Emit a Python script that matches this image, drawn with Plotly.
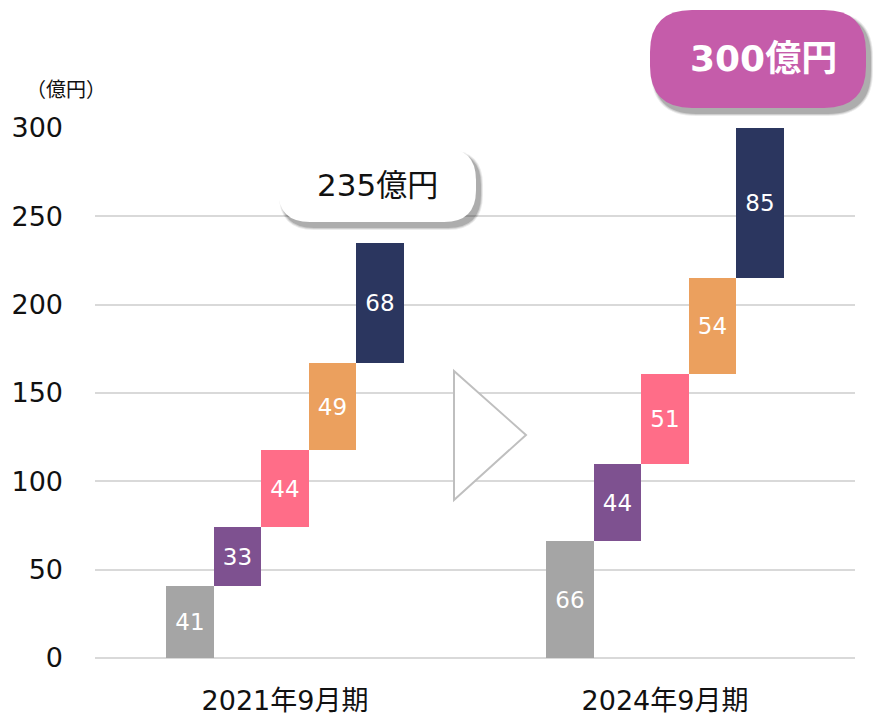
import plotly.graph_objects as go

# ---- data ----
periods = ["2021年9月期", "2024年9月期"]
values_2021 = [41, 33, 44, 49, 68]
values_2024 = [66, 44, 51, 54, 85]
totals = ["235億円", "300億円"]
seg_colors = ["#a5a5a5", "#7e5190", "#ff6d88", "#eba05e", "#2b365f"]
y_ticks = [0, 50, 100, 150, 200, 250, 300]
unit_label = "（億円）"

FONT = "DejaVu Sans, Noto Sans CJK JP"
CJK = "Noto Sans CJK JP"
W, H = 880, 715
L, R, T, B = 95, 855, 128, 658

def px(X, Y):
    return (X - L) / (R - L), (B - Y) / (B - T)

def rrect(x0, y0, x1, y1, r):
    def P(X, Y):
        a, b = px(X, Y)
        return f"{a:.5f},{b:.5f}"
    d = f"M {P(x0 + r, y0)} L {P(x1 - r, y0)} Q {P(x1, y0)} {P(x1, y0 + r)} "
    d += f"L {P(x1, y1 - r)} Q {P(x1, y1)} {P(x1 - r, y1)} "
    d += f"L {P(x0 + r, y1)} Q {P(x0, y1)} {P(x0, y1 - r)} "
    d += f"L {P(x0, y0 + r)} Q {P(x0, y0)} {P(x0 + r, y0)} Z"
    return d

fig = go.Figure()

groups = [(values_2021, 2), (values_2024, 10)]
for vals, start in groups:
    base = 0
    xs, bases = [], []
    for i, v in enumerate(vals):
        xs.append(start + i)
        bases.append(base)
        base += v
    fig.add_trace(go.Bar(
        x=xs, y=vals, base=bases, width=1,
        marker=dict(color=seg_colors, line=dict(width=0)),
        text=[str(v) for v in vals], textposition="inside",
        insidetextanchor="middle", textangle=0, constraintext="none",
        textfont=dict(family=FONT, size=23, color="white"),
        hoverinfo="skip", showlegend=False,
    ))

shapes = []
# arrow triangle
a = px(454, 371); b = px(526, 435); c = px(454, 500)
shapes.append(dict(type="path", xref="paper", yref="paper",
                   path=f"M {a[0]},{a[1]} L {b[0]},{b[1]} L {c[0]},{c[1]} Z",
                   line=dict(color="#bfbfbf", width=2), fillcolor="white"))

def callout(x0, y0, x1, y1, r, fill):
    for k, op in [(6, 0.08), (4, 0.12), (2, 0.16)]:
        shapes.append(dict(type="path", xref="paper", yref="paper",
                           path=rrect(x0 + 4 - k / 2, y0 + 5 - k / 2, x1 + 4 + k / 2, y1 + 5 + k / 2, r + k / 2),
                           line=dict(width=0), fillcolor=f"rgba(0,0,0,{op})"))
    shapes.append(dict(type="path", xref="paper", yref="paper",
                       path=rrect(x0, y0, x1, y1, r),
                       line=dict(width=0), fillcolor=fill))

callout(278, 148, 476, 222, 32, "white")
callout(650, 10, 866, 108, 42, "#c55caa")
fig.update_layout(shapes=shapes)

def note(X, Y, text, size, color, family=FONT):
    ax, ay = px(X, Y)
    fig.add_annotation(x=ax, y=ay, xref="paper", yref="paper", text=text,
                       xanchor="center", yanchor="middle", showarrow=False,
                       font=dict(family=family, size=size, color=color))

note(377, 185, totals[0], 31, "#111111")
note(763, 58, f"<b>{totals[1]}</b>", 36, "white")
note(66, 89, unit_label, 20, "#111111", CJK)

fig.update_layout(
    width=W, height=H,
    margin=dict(l=L, r=W - R, t=T, b=H - B, autoexpand=False),
    plot_bgcolor="white", paper_bgcolor="white",
    bargap=0,
    xaxis=dict(range=[0, 16], tickvals=[4, 12], ticktext=periods,
               showgrid=False, zeroline=False, showline=False, ticks="",
               tickfont=dict(family=FONT, size=27, color="#111111"),
               ticklabelstandoff=24, fixedrange=True),
    yaxis=dict(range=[0, 300], tickvals=y_ticks, showgrid=True,
               gridcolor="#d9d9d9", gridwidth=2, zeroline=True,
               zerolinecolor="#d9d9d9", zerolinewidth=2, showline=False,
               ticks="", tickfont=dict(family=FONT, size=27, color="#111111"),
               ticklabelstandoff=31, fixedrange=True),
)

fig.write_html("out.html", config={"displayModeBar": False},
               post_script="document.body.style.margin='0';")
